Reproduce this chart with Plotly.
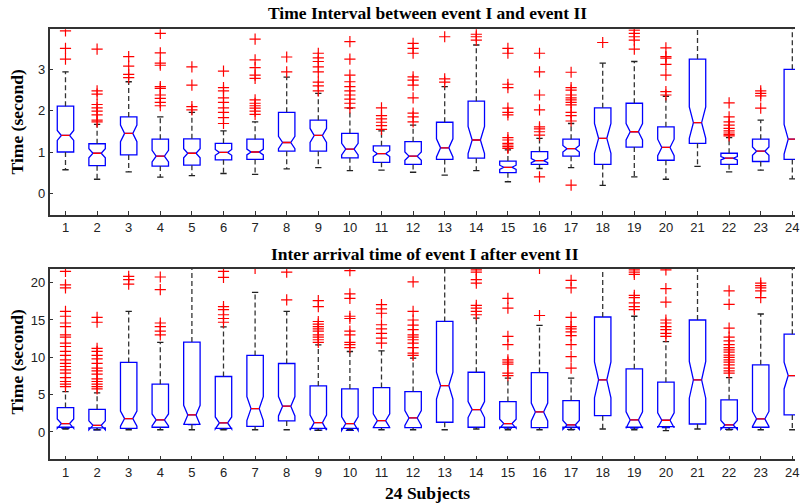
import plotly.graph_objects as go

subjects = list(range(1, 25))
tick_labels = [str(s) for s in subjects]

# ---------- Panel 1: Time Interval between event I and event II ----------
top_q1 = [1.00, 0.67, 0.93, 0.66, 0.68, 0.81, 0.82, 1.02, 1.02, 0.86, 0.75, 0.70,
          0.82, 0.85, 0.50, 0.70, 0.90, 0.70, 1.12, 0.80, 1.21, 0.70, 0.77, 0.82]
top_med = [1.40, 0.97, 1.45, 0.90, 0.97, 0.99, 1.00, 1.23, 1.40, 1.07, 0.96, 0.90,
           1.10, 1.29, 0.63, 0.79, 1.08, 1.33, 1.49, 1.11, 1.71, 0.85, 1.02, 1.31]
top_q3 = [2.11, 1.20, 1.85, 1.31, 1.32, 1.21, 1.31, 1.96, 1.77, 1.45, 1.15, 1.25,
          1.72, 2.23, 0.78, 1.01, 1.31, 2.07, 2.18, 1.61, 3.25, 0.97, 1.31, 3.00]
top_lo = [0.57, 0.34, 0.52, 0.39, 0.43, 0.48, 0.46, 0.59, 0.62, 0.55, 0.56, 0.51,
          0.44, 0.55, 0.28, 0.60, 0.62, 0.19, 0.40, 0.34, 0.65, 0.52, 0.56, 0.35]
top_hi = [2.94, 1.67, 2.70, 1.85, 1.96, 1.51, 1.73, 2.81, 2.42, 2.06, 1.51, 1.65,
          2.58, 3.59, 1.05, 1.33, 1.69, 3.15, 3.19, 2.35, 4.50, 1.35, 1.77, 4.50]
top_notch = [0.12, 0.11, 0.20, 0.14, 0.11, 0.07, 0.07, 0.15, 0.17, 0.14, 0.07, 0.10,
             0.22, 0.33, 0.05, 0.05, 0.08, 0.36, 0.20, 0.20, 0.38, 0.04, 0.10, 0.36]
top_out = [
    [3.93, 3.51, 3.25],
    [3.49, 2.48, 2.40, 2.15, 2.07, 1.99, 1.90, 1.77, 1.73],
    [3.31, 3.08, 2.88, 2.80],
    [3.87, 3.40, 3.15, 3.10, 2.58, 2.54, 2.38, 2.30, 2.20, 2.12],
    [3.06, 2.62, 2.10, 2.02],
    [2.96, 2.56, 2.48, 2.31, 2.20, 2.07, 1.96, 1.83, 1.69],
    [3.73, 3.23, 3.04, 2.86, 2.78, 2.26, 2.18, 2.12, 2.06, 1.99, 1.91],
    [3.30, 2.94],
    [3.39, 3.28, 3.19, 3.06, 2.94, 2.69, 2.60, 2.48],
    [3.67, 3.25, 2.86, 2.70, 2.58, 2.48, 2.38, 2.28, 2.18, 2.07],
    [2.07, 1.88, 1.80, 1.72, 1.64, 1.55],
    [3.63, 3.51, 3.39, 2.82, 2.74, 2.62, 2.31, 1.94, 1.85, 1.73],
    [3.79, 2.77, 2.69],
    [3.85, 3.79, 3.71],
    [3.51, 3.39, 2.64, 2.56, 2.06, 1.96, 1.90, 1.35, 1.29, 1.21, 1.17, 1.13, 1.09],
    [3.39, 2.94, 2.38, 2.02, 1.61, 1.56, 1.49, 1.41, 0.40],
    [2.93, 2.56, 2.50, 2.38, 2.31, 2.26, 2.20, 2.14, 1.96, 1.88, 1.75, 0.20],
    [3.65],
    [3.95, 3.87, 3.79, 3.71, 3.49],
    [3.52, 3.31, 3.27, 3.12, 2.86, 2.46, 2.38],
    [],
    [2.19, 1.85, 1.73, 1.65, 1.57, 1.51, 1.46, 1.42, 1.39],
    [2.48, 2.42, 2.36, 2.06],
    [],
]

# ---------- Panel 2: Inter arrival time of event I after event II ----------
bot_q1 = [0.63, 0.54, 0.49, 0.63, 1.03, 0.49, 0.76, 1.48, 0.49, 0.49, 0.58, 0.58,
          1.30, 0.63, 0.63, 0.58, 0.63, 2.19, 0.63, 0.72, 1.07, 0.58, 0.63, 2.28]
bot_med = [1.12, 0.89, 1.79, 1.61, 2.28, 1.21, 3.13, 3.45, 1.25, 1.12, 1.52, 1.88,
           6.22, 3.00, 1.12, 2.68, 0.94, 6.98, 1.61, 1.57, 6.98, 0.94, 1.75, 7.56]
bot_q3 = [3.27, 3.04, 9.31, 6.40, 12.04, 7.43, 10.25, 9.17, 6.17, 5.77, 5.95, 5.41,
          14.81, 8.00, 4.07, 7.96, 4.20, 15.40, 8.46, 6.67, 15.00, 4.30, 9.00, 13.10]
bot_lo = [0.40, 0.30, 0.30, 0.30, 0.30, 0.30, 0.30, 0.30, 0.22, 0.30, 0.30, 0.30,
          0.30, 0.40, 0.30, 0.30, 0.30, 0.40, 0.30, 0.18, 0.40, 0.30, 0.30, 0.30]
bot_hi = [5.41, 5.23, 16.15, 12.00, 25.0, 14.09, 18.70, 16.15, 11.68, 10.78, 10.87, 9.89,
          25.0, 15.26, 7.20, 14.27, 7.20, 25.0, 15.50, 12.10, 25.0, 7.29, 15.80, 25.0]
bot_notch = [0.63, 0.60, 1.00, 0.80, 1.30, 0.80, 1.60, 1.30, 1.00, 0.90, 0.90, 1.00,
             1.80, 1.07, 0.60, 1.20, 0.60, 2.40, 1.10, 1.00, 2.46, 0.60, 1.00, 1.80]
bot_out = [
    [21.5, 19.7, 19.3, 16.15, 15.5, 14.6, 14.1, 13.0, 12.7, 11.9, 11.45, 10.8, 10.25,
     9.66, 9.2, 8.77, 8.32, 7.87, 7.29, 6.76, 6.4, 6.08],
    [15.35, 14.7, 11.2, 10.8, 10.25, 9.8, 9.2, 8.55, 8.19, 7.74, 7.11, 6.76, 6.4, 6.08, 5.77],
    [20.85, 20.4, 19.8],
    [20.76, 19.06, 14.6, 14.1, 13.5, 13.0],
    [],
    [21.5, 20.7, 16.8, 16.4, 15.7, 15.2, 14.7],
    [21.9],
    [21.4, 17.7],
    [17.6, 16.8, 14.8, 14.45, 14.1, 13.8, 13.5, 13.0, 12.7, 12.35, 12.0],
    [21.6, 18.5, 17.9, 15.5, 15.2, 13.5, 13.0, 12.0, 11.7, 11.3],
    [17.05, 16.5, 15.9, 14.36, 13.8, 13.2, 12.57, 11.9],
    [20.1, 16.15, 15.0, 14.3, 13.7, 13.0, 12.7, 12.35, 11.9, 11.3, 10.56, 10.25],
    [],
    [21.7, 21.4, 20.4, 19.95, 16.96, 16.6, 16.15, 15.7],
    [17.9, 16.6, 12.8, 11.7, 9.66, 9.35, 9.08, 7.87, 7.56],
    [21.9, 15.6],
    [20.3, 19.3, 15.35, 14.1, 13.8, 13.4, 12.9, 11.7, 10.1, 8.55],
    [],
    [21.7, 21.4, 21.1, 18.3, 18.0, 17.3, 16.8, 16.4],
    [21.7, 19.2, 17.4, 15.0, 14.6, 14.1, 13.7, 13.2, 12.8],
    [],
    [18.9, 17.1, 13.9, 12.7, 12.2, 11.7, 11.3, 11.0, 10.7, 10.3, 10.0, 9.66, 9.35,
     9.0, 8.55, 8.19, 7.87],
    [19.95, 19.6, 19.3, 18.9, 18.0],
    [],
]

top_title = "Time Interval between event I and event II"
bot_title = "Inter arrival time of event I after event II"
y_title = "Time (second)"
x_title = "24 Subjects"

BOX_W = 0.52
NOTCH_W = 0.25
CAP_HALF = 0.1
MED_HALF = BOX_W / 2 * (1 - 2 * NOTCH_W)

fig = go.Figure()


def add_panel(q1, med, q3, lo, hi, notch, outs, xa, ya):
    fig.add_trace(go.Box(
        x=subjects, q1=q1, median=med, q3=q3, lowerfence=q1, upperfence=q3,
        notched=True, notchspan=notch, notchwidth=NOTCH_W, width=BOX_W,
        line=dict(color="#0000ff", width=1.3), fillcolor="rgba(0,0,0,0)",
        boxpoints=False, xaxis=xa, yaxis=ya, showlegend=False, hoverinfo="skip"))
    # whiskers (dashed)
    wx, wy = [], []
    for s, a, b, c, d in zip(subjects, q1, q3, lo, hi):
        wx += [s, s, None, s, s, None]
        wy += [b, d, None, a, c, None]
    fig.add_trace(go.Scatter(x=wx, y=wy, mode="lines", xaxis=xa, yaxis=ya,
                             line=dict(color="#333333", width=1.3, dash="5px,3px"),
                             showlegend=False, hoverinfo="skip"))
    # caps
    cx, cy = [], []
    for s, c, d in zip(subjects, lo, hi):
        cx += [s - CAP_HALF, s + CAP_HALF, None, s - CAP_HALF, s + CAP_HALF, None]
        cy += [c, c, None, d, d, None]
    fig.add_trace(go.Scatter(x=cx, y=cy, mode="lines", xaxis=xa, yaxis=ya,
                             line=dict(color="#222222", width=1.3),
                             showlegend=False, hoverinfo="skip"))
    # medians in red
    mx, my = [], []
    for s, m in zip(subjects, med):
        mx += [s - MED_HALF, s + MED_HALF, None]
        my += [m, m, None]
    fig.add_trace(go.Scatter(x=mx, y=my, mode="lines", xaxis=xa, yaxis=ya,
                             line=dict(color="#ff0000", width=1.3),
                             showlegend=False, hoverinfo="skip"))
    # outliers
    ox, oy = [], []
    for s, o in zip(subjects, outs):
        ox += [s] * len(o)
        oy += o
    fig.add_trace(go.Scatter(x=ox, y=oy, mode="markers", xaxis=xa, yaxis=ya,
                             marker=dict(symbol="cross-thin", size=8,
                                         line=dict(color="#ff0000", width=1.2)),
                             showlegend=False, hoverinfo="skip"))


add_panel(top_q1, top_med, top_q3, top_lo, top_hi, top_notch, top_out, "x", "y")
add_panel(bot_q1, bot_med, bot_q3, bot_lo, bot_hi, bot_notch, bot_out, "x2", "y2")

W, H = 800, 503
tick_font = dict(family="Liberation Sans, Arial, sans-serif", size=13, color="#222222")
xcommon = dict(domain=[50 / W, 1], range=[0.5, 24.085], tickmode="array",
               tickvals=subjects, ticktext=tick_labels, ticks="inside", ticklen=4,
               tickcolor="#333333", showline=True, mirror=True, linecolor="#333333",
               linewidth=1.5, showgrid=False, zeroline=False, tickfont=tick_font,
               ticklabeloverflow="allow")
ycommon = dict(ticks="inside", ticklen=4, tickcolor="#333333", showline=True,
               mirror=False, linecolor="#333333", linewidth=1.5, showgrid=False,
               zeroline=False, tickfont=tick_font)

fig.update_layout(
    width=W, height=H, margin=dict(l=0, r=0, t=0, b=0),
    paper_bgcolor="white", plot_bgcolor="white", showlegend=False,
    xaxis=dict(**xcommon, anchor="y"),
    yaxis=dict(**ycommon, anchor="x", domain=[1 - 215 / H, 1 - 29.3 / H],
               range=[-0.525, 3.97], tickvals=[0, 1, 2, 3]),
    xaxis2=dict(**xcommon, anchor="y2"),
    yaxis2=dict(**ycommon, anchor="x2", domain=[1 - 459.3 / H, 1 - 269 / H],
                range=[-3.66, 21.83], tickvals=[0, 5, 10, 15, 20]),
)

title_font = dict(family="Liberation Serif, Times New Roman, serif", size=17.5,
                  color="black", weight="bold")
ann = [
    dict(text=top_title, x=430 / W, y=1 - 13.5 / H),
    dict(text=bot_title, x=428 / W, y=1 - 253.5 / H),
    dict(text=y_title, x=17.5 / W, y=1 - 122 / H, textangle=-90),
    dict(text=y_title, x=17.5 / W, y=1 - 362 / H, textangle=-90),
    dict(text=x_title, x=430 / W, y=1 - 493 / H),
]
for a in ann:
    fig.add_annotation(xref="paper", yref="paper", xanchor="center", yanchor="middle",
                       showarrow=False, font=title_font, **a)

fig.write_html(
    "out.html",
    config={"displayModeBar": False},
    post_script="document.body.style.margin='0';document.body.style.padding='0';"
                "document.body.style.overflow='hidden';",
)
